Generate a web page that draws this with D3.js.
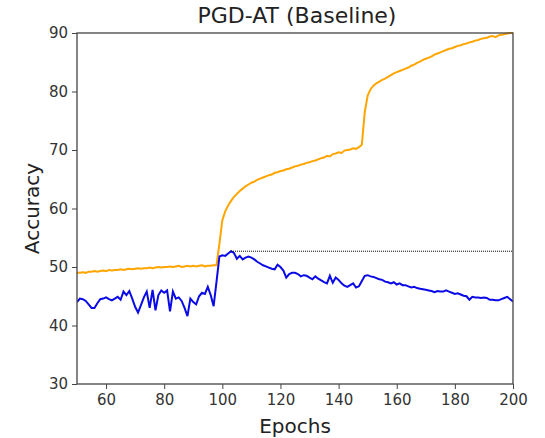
<!DOCTYPE html>
<html>
<head>
<meta charset="utf-8">
<script src="https://cdn.jsdelivr.net/npm/d3@7"></script>
<style>
    body { margin: 0; background: #fff; }
    svg { font-family: "DejaVu Sans", sans-serif; }
</style>
</head>
<body>
<div class="chart"></div>
<script>
// epochs 50..200
var epochs = d3.range(50, 201);

var trainAcc = [
    49.0, 49.0, 49.1, 49.0, 49.2, 49.2, 49.3, 49.2, 49.3, 49.4,
    49.3, 49.5, 49.4, 49.5, 49.5, 49.6, 49.5, 49.6, 49.7, 49.6,
    49.7, 49.8, 49.7, 49.8, 49.8, 49.9, 49.8, 49.9, 50.0, 49.9,
    50.0, 50.0, 50.1, 50.0, 50.1, 50.2, 50.0, 50.1, 50.2, 50.1,
    50.2, 50.1, 50.2, 50.3, 50.1, 50.2, 50.2, 50.3, 50.3, 54.0,
    58.0, 59.5, 60.5, 61.3, 62.0, 62.5, 63.0, 63.4, 63.8, 64.1,
    64.4, 64.6, 64.9, 65.1, 65.3, 65.5, 65.7, 65.8, 66.1, 66.2,
    66.4, 66.5, 66.7, 66.8, 67.0, 67.2, 67.3, 67.5, 67.6, 67.8,
    67.9, 68.1, 68.2, 68.4, 68.6, 68.7, 69.0, 68.9, 69.3, 69.4,
    69.6, 69.5, 69.9, 70.0, 70.1, 70.3, 70.2, 70.5, 70.9, 76.5,
    79.3, 80.4, 81.0, 81.4, 81.7, 82.0, 82.2, 82.5, 82.8, 83.1,
    83.3, 83.5, 83.7, 83.9, 84.1, 84.4, 84.6, 84.9, 85.1, 85.4,
    85.6, 85.8, 86.0, 86.3, 86.5, 86.7, 86.9, 87.1, 87.3, 87.4,
    87.6, 87.8, 87.9, 88.1, 88.2, 88.4, 88.5, 88.7, 88.8, 89.0,
    89.1, 89.2, 89.4, 89.5, 89.3, 89.6, 89.7, 89.8, 89.9, 90.0,
    90.1
];

var testAcc = [
    44.0, 44.6, 44.5, 44.2, 43.6, 43.0, 43.0, 43.8, 44.5, 44.6,
    44.8, 44.5, 44.3, 44.6, 44.9, 44.4, 45.8, 45.2, 45.9, 44.6,
    43.2, 42.2, 43.5, 44.8, 45.8, 43.0, 46.1, 42.6, 45.2, 46.0,
    45.6, 46.0, 42.4, 45.8, 44.6, 44.8, 44.2, 43.0, 41.6, 44.6,
    44.0, 43.6, 45.0, 45.6, 45.4, 46.6, 45.2, 43.3, 47.5, 51.8,
    52.0, 51.9, 52.3, 52.7, 52.4, 51.4, 51.9, 51.3, 51.6, 51.8,
    51.6, 51.3, 50.9, 50.6, 50.3, 50.1, 49.9, 49.7, 49.6, 50.4,
    50.0, 49.4, 48.2, 48.8, 49.0, 49.0, 48.8, 48.4, 48.6, 48.5,
    48.2, 47.9, 48.4, 48.0, 47.7, 47.4, 47.2, 48.5, 47.3, 48.2,
    47.8, 47.2, 46.8, 46.6, 46.9, 47.2, 46.5, 46.7, 47.6, 48.5,
    48.6, 48.4, 48.3, 48.1, 47.9, 47.8, 47.5, 47.4, 47.2, 47.4,
    47.0, 47.2, 46.9, 46.9, 46.7, 46.5, 46.6, 46.4, 46.3, 46.2,
    46.1, 46.0, 45.9, 45.7, 45.9, 45.8, 45.8, 46.0, 45.8, 45.6,
    45.4, 45.5, 45.3, 45.1, 45.0, 44.4, 44.9, 44.8, 44.8, 44.7,
    44.8, 44.7, 44.4, 44.4, 44.3, 44.3, 44.5, 44.7, 44.9, 44.5,
    44.1
];

var xTicks = [60, 80, 100, 120, 140, 160, 180, 200];
var yTicks = [30, 40, 50, 60, 70, 80, 90];

var width = 545, height = 438;
var margin = { top: 33, right: 32, bottom: 54, left: 77 };
var plotW = width - margin.left - margin.right;
var plotH = height - margin.top - margin.bottom;

var svg = d3.select(".chart")
            .append("svg")
            .attr("width", width)
            .attr("height", height);

var x = d3.scaleLinear().domain([50, 200]).range([0, plotW]);
var y = d3.scaleLinear().domain([30, 90]).range([plotH, 0]);

svg.append("defs").append("clipPath")
    .attr("id", "plotclip")
    .append("rect")
    .attr("x", 0).attr("y", -1)
    .attr("width", plotW).attr("height", plotH + 1);

var g = svg.append("g")
    .attr("transform", "translate(" + margin.left + "," + margin.top + ")");

var line = d3.line()
    .x(function(d) { return x(d[0]); })
    .y(function(d) { return y(d[1]); });

var plot = g.append("g").attr("clip-path", "url(#plotclip)");

plot.append("path")
    .datum(d3.zip(epochs, trainAcc))
    .attr("fill", "none")
    .attr("stroke", "#ffa500")
    .attr("stroke-width", 2)
    .attr("d", line);

plot.append("path")
    .datum(d3.zip(epochs, testAcc))
    .attr("fill", "none")
    .attr("stroke", "#0a0ae6")
    .attr("stroke-width", 2)
    .attr("d", line);

// best robust accuracy marker
var bestIdx = d3.maxIndex(testAcc);
var best = testAcc[bestIdx];
g.append("line")
    .attr("x1", x(epochs[bestIdx])).attr("x2", x(200))
    .attr("y1", y(best)).attr("y2", y(best))
    .attr("stroke", "#000")
    .attr("stroke-width", 1)
    .attr("stroke-dasharray", "1,1");

// axes
var xAxis = g.append("g")
    .attr("transform", "translate(0," + plotH + ")")
    .call(d3.axisBottom(x).tickValues(xTicks).tickSize(5).tickPadding(5));
var yAxis = g.append("g")
    .call(d3.axisLeft(y).tickValues(yTicks).tickSize(5).tickPadding(4));

[xAxis, yAxis].forEach(function(a) {
    a.select(".domain").remove();
    a.selectAll(".tick line").attr("stroke", "#444");
    a.selectAll(".tick text")
        .attr("fill", "#333")
        .style("font-size", "15px")
        .style("font-family", "DejaVu Sans");
});

// frame
g.append("rect")
    .attr("width", plotW).attr("height", plotH)
    .attr("fill", "none")
    .attr("stroke", "#444")
    .attr("stroke-width", 1.3);

svg.append("text")
    .attr("x", 297)
    .attr("y", 23)
    .attr("text-anchor", "middle")
    .attr("fill", "#222")
    .style("font-size", "22px")
    .text("PGD-AT (Baseline)");

svg.append("text")
    .attr("x", margin.left + plotW / 2)
    .attr("y", 433)
    .attr("text-anchor", "middle")
    .attr("fill", "#222")
    .style("font-size", "20px")
    .text("Epochs");

svg.append("text")
    .attr("transform", "translate(39," + (margin.top + plotH / 2) + ") rotate(-90)")
    .attr("text-anchor", "middle")
    .attr("fill", "#222")
    .style("font-size", "20px")
    .text("Accuracy");
</script>
</body>
</html>
